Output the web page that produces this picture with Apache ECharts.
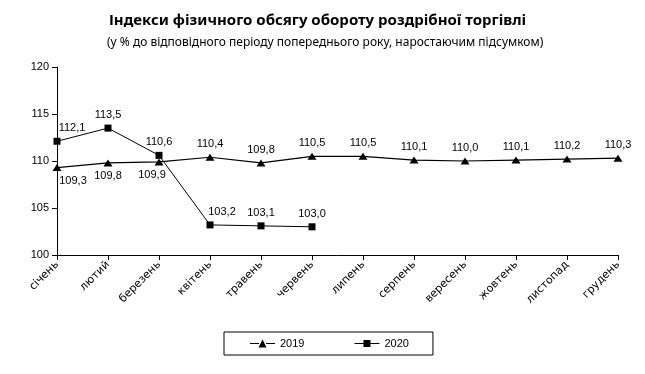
<!DOCTYPE html>
<html><head><meta charset="utf-8">
<script src="https://cdn.jsdelivr.net/npm/echarts@6/dist/echarts.min.js"></script>
<style>html,body{margin:0;padding:0;background:#fff}#c{width:645px;height:374px}</style>
</head><body><div id="c"></div>
<script>
const months = ['січень','лютий','березень','квітень','травень','червень','липень','серпень','вересень','жовтень','листопад','грудень'];
const values2019 = [109.3,109.8,109.9,110.4,109.8,110.5,110.5,110.1,110.0,110.1,110.2,110.3];
const values2020 = [112.1,113.5,110.6,103.2,103.1,103.0];
const yTicks = [100,105,110,115,120];
const title = 'Індекси фізичного обсягу обороту роздрібної торгівлі';
const subtitle = '(у % до відповідного періоду попереднього року, наростаючим підсумком)';

const fmt = v => v.toFixed(1).replace('.', ',');
const lblFont = {fontFamily:'Liberation Sans', fontSize:11, color:'#000'};

const d2019 = values2019.map((v,i) => ({
  value: v,
  label: i < 3 ? {position:'bottom', distance:4, offset:[i===0?16:(i===2?-7:0),0]} : {position:'top', distance:4}
}));
const d2020 = values2020.map((v,i) => ({
  value: v,
  label: {position:'top', distance:4, offset: i===0?[15,0]:(i===3?[12,0]:[0,0])}
}));

const triIcon = 'path://M0,3.5L9,3.5L9,4.5L0,4.5Z M16,3.5L25,3.5L25,4.5L16,4.5Z M8.5,8L12.5,0L16.5,8Z';
const sqIcon = 'path://M0,3.5L9,3.5L9,4.5L0,4.5Z M16,3.5L25,3.5L25,4.5L16,4.5Z M9,0.5L16,0.5L16,7.5L9,7.5Z M0,0L0.01,0L0.01,8L0,8Z';

const chart = echarts.init(document.getElementById('c'), null, {renderer:'canvas'});
chart.setOption({
  animation:false,
  backgroundColor:'#fff',
  title:[
    {text:title, left:104, top:8, textStyle:{fontFamily:'Noto Sans', fontWeight:'bold', fontSize:15, color:'#000'}},
    {text:subtitle, left:102, top:32, textStyle:{fontFamily:'Noto Sans', fontWeight:'normal', fontSize:12, color:'#000'}}
  ],
  grid:{left:57, right:27, top:67, bottom:119, containLabel:false},
  legend:{
    bottom:19, left:224, itemGap:50, itemWidth:25, itemHeight:8,
    padding:[6,24,6,26], borderColor:'#000', borderWidth:1,
    textStyle:{fontFamily:'Liberation Sans', fontSize:11, color:'#000'},
    data:[{name:'2019', icon:triIcon},{name:'2020', icon:sqIcon}]
  },
  xAxis:{
    type:'category', data:months, boundaryGap:false,
    axisLine:{lineStyle:{color:'#000', width:1}},
    axisTick:{show:true, alignWithLabel:true, length:5, lineStyle:{color:'#000'}},
    axisLabel:{rotate:45, interval:0, margin:8, fontFamily:'DejaVu Sans', fontSize:11, color:'#000'},
    splitLine:{show:false}
  },
  yAxis:{
    type:'value', min:yTicks[0], max:yTicks[yTicks.length-1], interval:5,
    axisLine:{show:true, lineStyle:{color:'#000', width:1}},
    axisTick:{show:true, length:5, lineStyle:{color:'#000'}},
    axisLabel:{margin:8, fontFamily:'Liberation Sans', fontSize:11, color:'#000'},
    splitLine:{show:false}
  },
  series:[
    {name:'2019', type:'line', data:d2019, symbol:'triangle', symbolSize:[9,7],
     lineStyle:{color:'#000', width:1.2}, itemStyle:{color:'#000'},
     label:{show:true, formatter:p=>fmt(p.value), ...lblFont}},
    {name:'2020', type:'line', data:d2020, symbol:'rect', symbolSize:7,
     lineStyle:{color:'#000', width:1}, itemStyle:{color:'#000'},
     label:{show:true, formatter:p=>fmt(p.value), ...lblFont}}
  ]
});
</script></body></html>
